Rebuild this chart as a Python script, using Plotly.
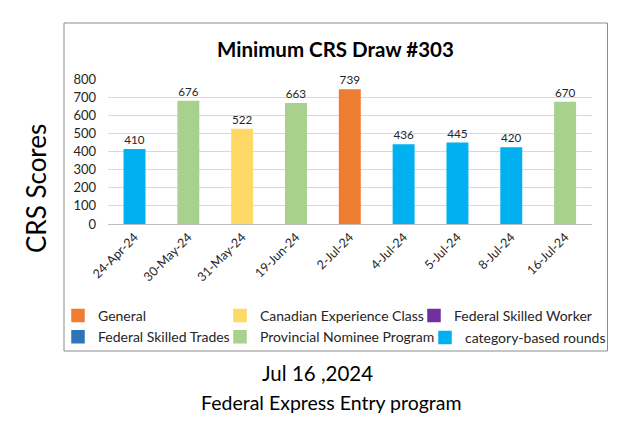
import plotly.graph_objects as go

# ---- data ----
draw_dates = ["24-Apr-24", "30-May-24", "31-May-24", "19-Jun-24", "2-Jul-24",
              "4-Jul-24", "5-Jul-24", "8-Jul-24", "16-Jul-24"]
draw_scores = [410, 676, 522, 663, 739, 436, 445, 420, 670]
draw_programs = ["category-based rounds", "Provincial Nominee Program",
                 "Canadian Experience Class", "Provincial Nominee Program",
                 "General", "category-based rounds", "category-based rounds",
                 "category-based rounds", "Provincial Nominee Program"]
y_ticks = [0, 100, 200, 300, 400, 500, 600, 700, 800]

programs = ["General", "Federal Skilled Trades", "Canadian Experience Class",
            "Provincial Nominee Program", "Federal Skilled Worker",
            "category-based rounds"]
program_colors = {
    "General": "#ED7D31",
    "Canadian Experience Class": "#FFD966",
    "Federal Skilled Worker": "#7030A0",
    "Federal Skilled Trades": "#2E75B6",
    "Provincial Nominee Program": "#A9D18E",
    "category-based rounds": "#00B0F0",
}
legend_of = {
    "General": "legend", "Federal Skilled Trades": "legend",
    "Canadian Experience Class": "legend2", "Provincial Nominee Program": "legend2",
    "Federal Skilled Worker": "legend3", "category-based rounds": "legend4",
}

W, H = 630, 430
OFF = 8  # page body margin offset in the browser
FONT = "Lato, 'Open Sans', sans-serif"

def px_x(p):
    return (p - OFF) / W

def px_y(p):
    return 1 - (p - OFF) / H

fig = go.Figure()
for prog in programs:
    xs = [d for d, p in zip(draw_dates, draw_programs) if p == prog]
    ys = [s for s, p in zip(draw_scores, draw_programs) if p == prog]
    if not xs:
        xs, ys = [draw_dates[0]], [None]
    fig.add_trace(go.Bar(
        x=xs, y=ys, name=prog,
        marker=dict(color=program_colors[prog],
                    line=dict(width=1.5, color=program_colors[prog])),
        text=[str(v) if v is not None else "" for v in ys],
        textposition="outside", cliponaxis=False,
        textfont=dict(size=13.5, color="#262626", family=FONT),
        legend=legend_of[prog], showlegend=True,
    ))

legend_common = dict(
    orientation="v", yanchor="top", xanchor="left",
    font=dict(size=14, color="#262626", family=FONT),
    bgcolor="rgba(0,0,0,0)", tracegroupgap=0, borderwidth=0,
)

fig.update_layout(
    width=W, height=H,
    margin=dict(l=0, r=0, t=0, b=0, autoexpand=False),
    paper_bgcolor="white", plot_bgcolor="white",
    barmode="overlay", bargap=0.62,
    font=dict(family=FONT, color="#262626"),
    showlegend=True,
    legend=dict(x=px_x(58), y=px_y(300), **legend_common),
    legend2=dict(x=px_x(220), y=px_y(300), **legend_common),
    legend3=dict(x=px_x(414), y=px_y(300), **legend_common),
    legend4=dict(x=px_x(425), y=px_y(322), **legend_common),
    xaxis=dict(
        domain=[px_x(107.6), px_x(592)],
        categoryorder="array", categoryarray=draw_dates,
        tickangle=-45, tickfont=dict(size=12.5, color="#262626"),
        showgrid=False, showline=True, linecolor="#BFBFBF", linewidth=1,
        ticks="", zeroline=False, automargin=False,
    ),
    yaxis=dict(
        domain=[px_y(224), px_y(79)],
        range=[0, 800], tickvals=y_ticks,
        tickfont=dict(size=13, color="#262626"),
        showgrid=True, gridcolor="#D9D9D9", gridwidth=1,
        zeroline=False, showline=False, automargin=False,
        ticks="outside", ticklen=8, tickcolor="rgba(0,0,0,0)",
    ),
    shapes=[dict(type="rect", xref="paper", yref="paper",
                 x0=px_x(64), x1=px_x(607.5), y0=px_y(351), y1=px_y(23),
                 line=dict(color="#8C8C8C", width=1), layer="below")],
    annotations=[
        dict(text="<b>Minimum CRS Draw #303</b>", xref="paper", yref="paper",
             x=px_x(335), y=px_y(49), xanchor="center", yanchor="middle",
             showarrow=False, font=dict(size=20.5, color="#000000", family=FONT)),
        dict(text="CRS Scores", xref="paper", yref="paper",
             x=px_x(36), y=px_y(189), xanchor="center", yanchor="middle",
             textangle=-90, showarrow=False,
             font=dict(size=26, color="#000000", family=FONT)),
        dict(text="Jul 16 ,2024", xref="paper", yref="paper",
             x=px_x(317), y=px_y(373), xanchor="center", yanchor="middle",
             showarrow=False, font=dict(size=20.5, color="#000000", family=FONT)),
        dict(text="Federal Express Entry program", xref="paper", yref="paper",
             x=px_x(331), y=px_y(402), xanchor="center", yanchor="middle",
             showarrow=False, font=dict(size=19.5, color="#000000", family=FONT)),
    ],
)

fig.write_html("out.html")
